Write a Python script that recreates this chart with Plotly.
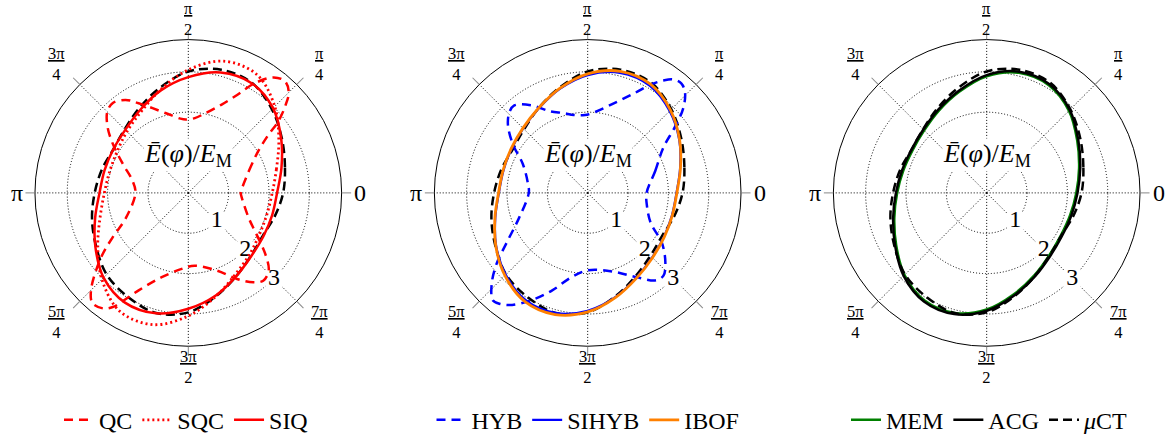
import math
import plotly.graph_objects as go

# ---------------- data ----------------
theta_e = [0, 15, 30, 45, 60, 75, 90, 105, 120, 135, 150, 165,
           180, 195, 210, 225, 240, 255, 270, 285, 300, 315, 330, 345]

r_mct = [2.35, 2.48, 2.68, 2.93, 3.15, 3.16, 3.01, 2.70, 2.43, 2.23, 2.15, 2.22,
         2.32, 2.47, 2.64, 2.86, 2.98, 3.08, 2.96, 2.65, 2.38, 2.20, 2.13, 2.22]

r_sqc = [2.08, 2.26, 2.59, 3.03, 3.39, 3.38, 3.05, 2.65, 2.33, 2.15, 2.04, 2.02,
         2.08, 2.26, 2.59, 3.03, 3.39, 3.38, 3.05, 2.65, 2.33, 2.15, 2.04, 2.02]

r_siq = [2.20, 2.39, 2.66, 2.97, 3.14, 3.09, 2.87, 2.63, 2.38, 2.21, 2.15, 2.15,
         2.20, 2.39, 2.66, 2.97, 3.14, 3.09, 2.87, 2.63, 2.38, 2.21, 2.15, 2.15]

r_sihyb = [2.20, 2.37, 2.62, 2.87, 3.07, 3.08, 2.92, 2.67, 2.42, 2.26, 2.18, 2.16,
           2.20, 2.37, 2.62, 2.87, 3.07, 3.08, 2.92, 2.67, 2.42, 2.26, 2.18, 2.16]

r_ibof = [2.21, 2.38, 2.63, 2.90, 3.11, 3.12, 2.95, 2.68, 2.43, 2.27, 2.19, 2.17,
          2.21, 2.38, 2.63, 2.90, 3.11, 3.12, 2.95, 2.68, 2.43, 2.27, 2.19, 2.17]

r_acg = [2.25, 2.40, 2.62, 2.91, 3.11, 3.11, 2.92, 2.63, 2.39, 2.22, 2.15, 2.17,
         2.25, 2.40, 2.62, 2.91, 3.11, 3.11, 2.92, 2.63, 2.39, 2.22, 2.15, 2.17]

r_mem = [2.22, 2.37, 2.59, 2.88, 3.08, 3.08, 2.89, 2.60, 2.36, 2.19, 2.12, 2.14,
         2.22, 2.37, 2.59, 2.88, 3.08, 3.08, 2.89, 2.60, 2.36, 2.19, 2.12, 2.14]

theta_qc = [0, 20, 31, 36, 38.5, 42, 45, 49, 53.5, 59, 63.5, 69.5, 78, 85, 92, 96,
            106, 119, 124, 130, 135, 141, 147, 156, 167.5, 180, 202, 210.5, 216.5,
            225, 229, 233.5, 236.5, 243, 252.5, 265, 275, 290.5, 299.5, 306, 310.5,
            316, 321.5, 328.5, 337.5, 357.5]
r_qc = [1.30, 1.60, 2.03, 2.46, 2.85, 3.24, 3.52, 3.66, 3.56, 3.16, 2.71, 2.33,
        2.02, 1.86, 1.82, 1.85, 2.06, 2.54, 2.78, 2.91, 2.84, 2.57, 2.23, 1.78,
        1.42, 1.31, 1.67, 2.18, 2.69, 3.41, 3.62, 3.56, 3.39, 2.71, 2.19, 1.89,
        1.81, 2.06, 2.45, 2.74, 2.86, 2.77, 2.44, 1.99, 1.62, 1.31]

theta_hyb = [0, 18, 31, 37, 41.5, 46, 49.5, 53, 56, 60, 65, 73.5, 85, 92, 100, 107,
             114.5, 123, 130, 134, 139.5, 147, 156, 171, 180, 200, 211, 218, 223.5,
             228.5, 231.5, 236, 242.5, 250, 259, 270, 288, 300, 308, 312.5, 318,
             326, 334.5, 348]
r_hyb = [1.46, 1.76, 2.19, 2.70, 3.16, 3.47, 3.57, 3.52, 3.36, 3.09, 2.72, 2.32,
         2.01, 1.93, 1.96, 2.07, 2.22, 2.59, 2.83, 2.79, 2.60, 2.21, 1.76, 1.50,
         1.46, 1.81, 2.32, 2.87, 3.28, 3.55, 3.51, 3.35, 2.99, 2.57, 2.13, 1.92,
         2.05, 2.41, 2.75, 2.78, 2.59, 2.22, 1.73, 1.50]

angle_ticks = [0, 45, 90, 135, 180, 225, 270, 315]
angle_labels = ['0', '<u>π</u><br>4', '<u>π</u><br>2', '<u>3π</u><br>4', 'π',
                '<u>5π</u><br>4', '<u>3π</u><br>2', '<u>7π</u><br>4']
radial_ticks = [1, 2, 3]
radial_labels = ['1', '2', '3']
r_max = 3.8

# ---------------- layout geometry ----------------
W, H = 1172, 443
centers_x = [188.3, 587.7, 986.7]
center_y = 196.0
R = 155.8
FONT = "Liberation Serif"


def closed(t, r):
    return list(t) + [t[0] + 360], list(r) + [r[0]]


fig = go.Figure()

series = [
    # (subplot, name, theta, r, color, width, dash, legend, showlegend)
    (1, 'μCT', theta_e, r_mct, 'black', 2.5, '9px,5px', 'legend', False),
    (1, 'QC', theta_qc, r_qc, '#ff0000', 2.5, '9px,6px', 'legend', True),
    (1, 'SQC', theta_e, r_sqc, '#ff0000', 2.8, '2px,3px', 'legend', True),
    (1, 'SIQ', theta_e, r_siq, '#ff0000', 2.5, 'solid', 'legend', True),
    (2, 'μCT', theta_e, r_mct, 'black', 2.5, '9px,5px', 'legend2', False),
    (2, 'HYB', theta_hyb, r_hyb, '#0000ff', 2.5, '9px,6px', 'legend2', True),
    (2, 'SIHYB', theta_e, r_sihyb, '#0000ff', 2.2, 'solid', 'legend2', True),
    (2, 'IBOF', theta_e, r_ibof, '#ff8000', 2.8, 'solid', 'legend2', True),
    (3, 'MEM', theta_e, r_mem, '#008000', 2.5, 'solid', 'legend3', True),
    (3, 'ACG', theta_e, r_acg, 'black', 2.5, 'solid', 'legend3', True),
    (3, '<i>μ</i>CT', theta_e, r_mct, 'black', 2.5, '9px,5px', 'legend3', True),
]

# radial tick labels (white boxes behind them)
for k in (1, 2, 3):
    fig.add_trace(go.Scatterpolar(
        r=radial_ticks, theta=[315] * 3, mode='markers+text', text=radial_labels,
        textposition='middle center',
        textfont=dict(family=FONT, size=24, color='black'),
        marker=dict(symbol='square', size=17, color='white'),
        subplot='polar' if k == 1 else f'polar{k}', showlegend=False,
        hoverinfo='skip'))

for sp, name, t, r, col, w, dash, leg, show in series:
    tt, rr = closed(t, r)
    fig.add_trace(go.Scatterpolar(
        r=rr, theta=tt, mode='lines', name=name,
        line=dict(color=col, width=w, dash=dash, shape='spline', smoothing=1.0),
        subplot='polar' if sp == 1 else f'polar{sp}',
        legend=leg, showlegend=show))

polar_common = dict(
    bgcolor='white',
    radialaxis=dict(range=[0, r_max], tickvals=radial_ticks, showticklabels=False,
                    ticks='', showline=False, gridcolor='black', griddash='1px,2px',
                    gridwidth=1),
    angularaxis=dict(tickvals=angle_ticks, showticklabels=False,
                     direction='counterclockwise', rotation=0, ticks='outside',
                     ticklen=9, tickcolor='#888888', tickwidth=1,
                     linecolor='black', linewidth=1,
                     gridcolor='black', griddash='1px,2px', gridwidth=1),
)

yd = [(H - center_y - R) / H, (H - center_y + R) / H]
layout = dict(width=W, height=H, margin=dict(l=0, r=0, t=0, b=0),
              paper_bgcolor='white', plot_bgcolor='white',
              font=dict(family=FONT, size=24, color='black'))
annotations = []
for k, cx in enumerate(centers_x, start=1):
    key = 'polar' if k == 1 else f'polar{k}'
    layout[key] = dict(domain=dict(x=[(cx - R) / W, (cx + R) / W], y=yd), **polar_common)
    # centre label
    annotations.append(dict(
        x=cx / W, y=(H - center_y + 0.95 * R / r_max) / H, xref='paper', yref='paper',
        text='<i>Ē</i>(<i>φ</i>)/<i>E</i><sub>M</sub>', showarrow=False,
        font=dict(family=FONT, size=26, color='black'), bgcolor='white',
        xanchor='center', yanchor='middle', borderpad=0))
    # angular tick labels
    for ang, lab in zip(angle_ticks, angle_labels):
        if '<br>' in lab:
            d = R + (21 if ang % 90 == 0 else 30)
            size = 16.5
        else:
            d = R + 16
            size = 24
        a = math.radians(ang)
        px = cx + d * math.cos(a)
        py = center_y - d * math.sin(a)
        annotations.append(dict(
            x=px / W, y=(H - py) / H, xref='paper', yref='paper', text=lab,
            showarrow=False, font=dict(family=FONT, size=size, color='black'),
            xanchor='center', yanchor='middle', borderpad=0))
layout['annotations'] = annotations

leg_y = (H - 427) / H
leg_common = dict(orientation='h', yanchor='middle', y=leg_y, xanchor='center',
                  font=dict(family=FONT, size=24, color='black'),
                  bgcolor='rgba(0,0,0,0)', itemwidth=30, tracegroupgap=0)
layout['legend'] = dict(x=186 / W, **leg_common)
layout['legend2'] = dict(x=588 / W, **leg_common)
layout['legend3'] = dict(x=990 / W, **leg_common)

fig.update_layout(**layout)
fig.write_html("out.html")
